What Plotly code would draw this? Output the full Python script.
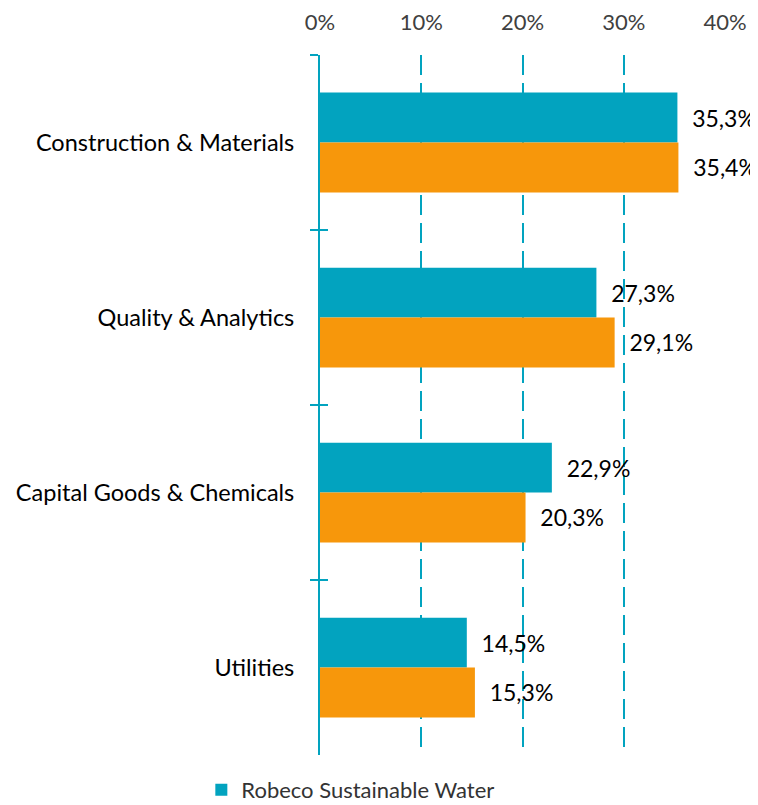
import plotly.graph_objects as go

categories = ["Construction & Materials", "Quality & Analytics", "Capital Goods & Chemicals", "Utilities"]
fund_values = [0.353, 0.273, 0.229, 0.145]
bench_values = [0.354, 0.291, 0.203, 0.153]
fund_name = "Robeco Sustainable Water"
bench_name = "Benchmark"
x_ticks = [0, 0.1, 0.2, 0.3, 0.4]
x_ticklabels = ["0%", "10%", "20%", "30%", "40%"]

TEAL = "#02A3BF"
ORANGE = "#F7970B"
FONT = "Lato"

fig = go.Figure()
fig.add_trace(go.Bar(
    y=categories, x=fund_values, name=fund_name, orientation="h",
    marker=dict(color=TEAL, line=dict(width=0)),
    texttemplate="  %{x:.1%}", textposition="outside",
    textfont=dict(family=FONT, size=23, color="#000000"),
    cliponaxis=False,
))
fig.add_trace(go.Bar(
    y=categories, x=bench_values, name=bench_name, orientation="h",
    marker=dict(color=ORANGE, line=dict(width=0)),
    texttemplate="  %{x:.1%}", textposition="outside",
    textfont=dict(family=FONT, size=23, color="#000000"),
    cliponaxis=False, showlegend=False,
))
# empty helper trace so the overlaid axis (inner tick marks) is drawn
fig.add_trace(go.Scatter(
    x=[None] * len(categories), y=categories, yaxis="y2",
    mode="markers", showlegend=False, hoverinfo="skip",
))

fig.update_layout(
    width=750, height=797,
    margin=dict(l=312, r=33, t=47, b=50, autoexpand=False),
    paper_bgcolor="white", plot_bgcolor="white",
    barmode="group", bargap=0.43, bargroupgap=0,
    separators=",.",
    font=dict(family=FONT, size=22, color="#000000"),
    xaxis=dict(
        side="top", range=[0, 0.4], tickvals=x_ticks, ticktext=x_ticklabels,
        showgrid=True, gridcolor=TEAL, gridwidth=2, griddash="20px,8px",
        zeroline=False, showline=False, ticks="",
        tickfont=dict(family=FONT, size=22, color="#404040"),
        ticklabelstandoff=20, automargin=False,
    ),
    yaxis=dict(
        type="category", categoryorder="array", categoryarray=categories,
        range=[3.5, -0.5], showline=True, linecolor=TEAL, linewidth=2,
        ticks="outside", ticklen=8, tickwidth=2, tickcolor=TEAL,
        tickson="boundaries", showgrid=False, zeroline=False,
        tickfont=dict(family=FONT, size=23.5, color="#000000"),
        ticklabelstandoff=19, automargin=False,
    ),
    yaxis2=dict(
        type="category", categoryorder="array", categoryarray=categories,
        range=[3.5, -0.5], overlaying="y", side="left", anchor="x",
        showline=False, ticks="inside", ticklen=8, tickwidth=2, tickcolor=TEAL,
        tickson="boundaries", showgrid=False, zeroline=False,
        showticklabels=False, automargin=False,
    ),
    legend=dict(
        orientation="v", x=-0.293, xanchor="left", y=-0.05, yanchor="middle",
        font=dict(family=FONT, size=22, color="#333333"),
        bgcolor="rgba(0,0,0,0)",
    ),
)

fig.write_html("out.html")
